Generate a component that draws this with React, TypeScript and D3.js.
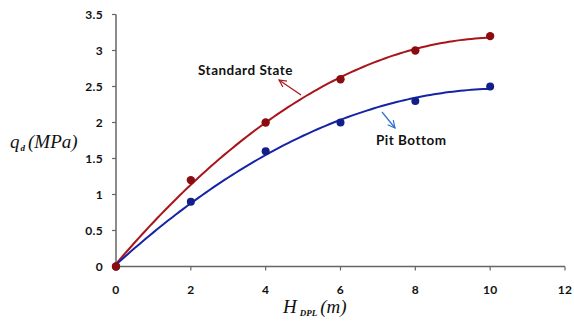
import React from "react";
import * as d3 from "d3";

const xValues = [0, 2, 4, 6, 8, 10];
const standardState = [0, 1.2, 2.0, 2.6, 3.0, 3.2];
const pitBottom = [0, 0.9, 1.6, 2.0, 2.3, 2.5];
const xTicks = [0, 2, 4, 6, 8, 10, 12];
const yTicks = [0, 0.5, 1, 1.5, 2, 2.5, 3, 3.5];

function quadFit(xs: number[], ys: number[]) {
  const n = xs.length;
  const s = [0, 0, 0, 0, 0];
  const t = [0, 0, 0];
  for (let i = 0; i < n; i++) {
    const x = xs[i], y = ys[i];
    for (let k = 0; k < 5; k++) s[k] += Math.pow(x, k);
    for (let k = 0; k < 3; k++) t[k] += y * Math.pow(x, k);
  }
  const M = [
    [s[0], s[1], s[2], t[0]],
    [s[1], s[2], s[3], t[1]],
    [s[2], s[3], s[4], t[2]],
  ];
  for (let i = 0; i < 3; i++) {
    for (let j = i + 1; j < 3; j++) {
      const f = M[j][i] / M[i][i];
      for (let k = i; k < 4; k++) M[j][k] -= f * M[i][k];
    }
  }
  const r = [0, 0, 0];
  for (let i = 2; i >= 0; i--) {
    let v = M[i][3];
    for (let k = i + 1; k < 3; k++) v -= M[i][k] * r[k];
    r[i] = v / M[i][i];
  }
  return (x: number) => r[0] + r[1] * x + r[2] * x * x;
}

export default function App() {
  const W = 574, H = 323;
  const x = d3.scaleLinear().domain([0, 12]).range([116, 565]);
  const y = d3.scaleLinear().domain([0, 3.5]).range([266.5, 14.5]);
  const red = "#a8151a";
  const redDot = "#8a0c10";
  const blue = "#1524a6";
  const blueDot = "#121f88";
  const fitS = quadFit(xValues, standardState);
  const fitP = quadFit(xValues, pitBottom);
  const samples = d3.range(0, 10.001, 0.1);
  const mk = d3.line<[number, number]>().x((d) => x(d[0])).y((d) => y(d[1]));
  const pathS = mk(samples.map((v) => [v, Math.max(0, fitS(v))] as [number, number]));
  const pathP = mk(samples.map((v) => [v, Math.max(0, fitP(v))] as [number, number]));
  const tickFont = "Lato, 'Open Sans', sans-serif";
  const axisColor = "#666";
  return (
    <svg width={W} height={H} style={{ position: "absolute", left: 0, top: 0 }}>
      <defs>
        <marker id="arrR" viewBox="0 0 10 10" refX="9" refY="5" markerWidth="9" markerHeight="9" orient="auto" markerUnits="userSpaceOnUse">
          <path d="M1,1 L9,5 L1,9" fill="none" stroke={red} strokeWidth={1.3} />
        </marker>
        <marker id="arrB" viewBox="0 0 10 10" refX="9" refY="5" markerWidth="9" markerHeight="9" orient="auto" markerUnits="userSpaceOnUse">
          <path d="M1,1 L9,5 L1,9" fill="none" stroke="#2f6fd0" strokeWidth={1.3} />
        </marker>
      </defs>
      <rect width={W} height={H} fill="#fff" />
      <line x1={x(0)} x2={x(0)} y1={y(3.5)} y2={y(0)} stroke={axisColor} strokeWidth={1.5} />
      <line x1={x(0)} x2={x(12)} y1={y(0)} y2={y(0)} stroke={axisColor} strokeWidth={1.5} />
      {yTicks.map((t) => (
        <g key={"y" + t}>
          <line x1={x(0) - 4} x2={x(0)} y1={y(t)} y2={y(t)} stroke={axisColor} strokeWidth={1.2} />
          <text x={x(0) - 13} y={y(t)} dy="0.35em" textAnchor="end" fontFamily={tickFont} fontWeight="bold" fontSize={12} letterSpacing={0.3} fill="#111">
            {t}
          </text>
        </g>
      ))}
      {xTicks.map((t) => (
        <g key={"x" + t}>
          <line x1={x(t)} x2={x(t)} y1={y(0)} y2={y(0) + 4} stroke={axisColor} strokeWidth={1.2} />
          <text x={x(t)} y={290} dy="0.35em" textAnchor="middle" fontFamily={tickFont} fontWeight="bold" fontSize={12} letterSpacing={0.3} fill="#111">
            {t}
          </text>
        </g>
      ))}
      <path d={pathS || ""} fill="none" stroke={red} strokeWidth={2} />
      <path d={pathP || ""} fill="none" stroke={blue} strokeWidth={2} />
      {xValues.map((v, i) => (
        <circle key={"p" + i} cx={x(v)} cy={y(pitBottom[i])} r={4} fill={blueDot} />
      ))}
      {xValues.map((v, i) => (
        <circle key={"s" + i} cx={x(v)} cy={y(standardState[i])} r={4.2} fill={redDot} />
      ))}
      <text x={198} y={75} fontFamily={tickFont} fontWeight="bold" fontSize={13.5} letterSpacing={0.5} fill="#111">
        Standard State
      </text>
      <line x1={301} y1={95} x2={279} y2={80} stroke={red} strokeWidth={1.2} markerEnd="url(#arrR)" />
      <text x={376} y={145} fontFamily={tickFont} fontWeight="bold" fontSize={13.5} letterSpacing={0.5} fill="#111">
        Pit Bottom
      </text>
      <line x1={382} y1={112} x2={395} y2={128} stroke="#2f6fd0" strokeWidth={1.2} markerEnd="url(#arrB)" />
      <text x={10} y={148} fontFamily="'Liberation Serif', serif" fontStyle="italic" fontSize={19} fill="#111">
        q
        <tspan dy={3} dx={1} fontSize={9} fontWeight="bold">d</tspan>
        <tspan dy={-3} dx={3}>(MPa)</tspan>
      </text>
      <text x={283} y={313} fontFamily="'Liberation Serif', serif" fontStyle="italic" fontSize={19} fill="#111">
        H
        <tspan dy={3} dx={3} fontSize={9} fontWeight="bold">DPL</tspan>
        <tspan dy={-3} dx={3}>(m)</tspan>
      </text>
    </svg>
  );
}
